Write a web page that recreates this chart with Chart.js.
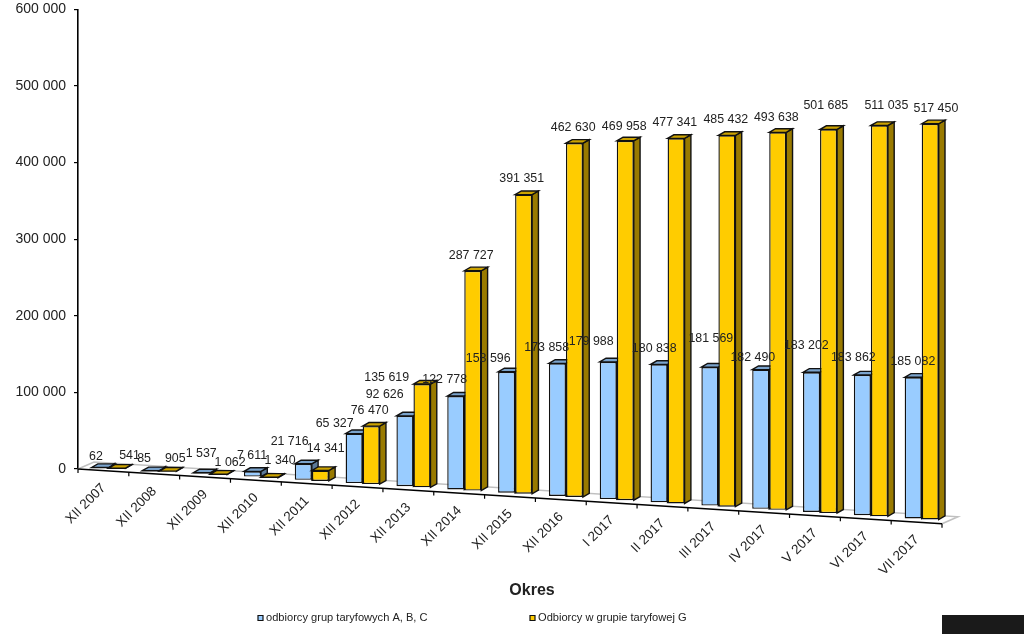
<!DOCTYPE html>
<html><head><meta charset="utf-8">
<style>html,body{margin:0;padding:0;background:#fff}#w{width:1024px;height:634px;position:relative}</style>
<script src="https://cdn.jsdelivr.net/npm/chart.js@4"></script></head>
<body><div id="w"><canvas id="c" width="1024" height="634"></canvas></div>
<script>
const categories=["XII 2007","XII 2008","XII 2009","XII 2010","XII 2011","XII 2012","XII 2013","XII 2014","XII 2015","XII 2016","I 2017","II 2017","III 2017","IV 2017","V 2017","VI 2017","VII 2017"];
const seriesABC=[62,85,1537,7611,21716,65327,92626,122778,158596,173858,179988,180838,181569,182490,183202,183862,185082];
const seriesG=[541,905,1062,1340,14341,76470,135619,287727,391351,462630,469958,477341,485432,493638,501685,511035,517450];
const yTicks=[0,100000,200000,300000,400000,500000,600000];
const nameABC="odbiorcy grup taryfowych A, B, C";
const nameG="Odbiorcy w grupie taryfowej G";
const axisTitle="Okres";
// hand placement of the value labels in the original, relative to each bar's top centre
const nudgeABC=[[-4,-10.6],[-6.8,-11.75],[-.4,-18.85],[-.4,-15.7],[-13.7,-22.1],[-19.5,-9.6],[-20.3,-20.9],[-11.1,-16],[-18.4,-12.8],[-10.7,-15.3],[-17,-20.2],[-4.8,-15.5],[.9,-28],[-7.9,-11.9],[-5.2,-26.6],[-9,-17.3],[-.3,-15.2]];
const nudgeG=[[12.5,-12.25],[7.4,-12.2],[11.4,-11.6],[10.6,-16.3],[5.3,-21.5],[-1.5,-15.1],[-35.3,-6.1],[-1.6,-15.1],[-1.9,-15.6],[-1.2,-15.2],[-1,-13.8],[-1.3,-15.4],[-1.1,-15.4],[-1.4,-14.4],[-2.7,-23.7],[7,-19.7],[5.7,-14.7]];

const FONT='"Liberation Sans", Arial, sans-serif', INK='#222';
const SKEW=.0633, LIFT=-2.3, DX=6.3, DY=-3.6;
const fmt=v=>String(v).replace(/\B(?=(\d{3})+(?!\d))/g,' ');
const styles=[{front:'#99CCFF',top:'#7AA3CC',side:'#5C7A99'},{front:'#FFCC00',top:'#CCA300',side:'#997A00'}];

function poly(ctx,pts,fill,stroke,lw){ctx.beginPath();pts.forEach((p,i)=>i?ctx.lineTo(p[0],p[1]):ctx.moveTo(p[0],p[1]));ctx.closePath();
  if(fill){ctx.fillStyle=fill;ctx.fill();} if(stroke){ctx.strokeStyle=stroke;ctx.lineWidth=lw;ctx.stroke();}}

const bars3d={id:'bars3d',
  afterDatasetsUpdate(chart){
    const sx=chart.scales.x;
    chart.data.datasets.forEach((ds,di)=>{
      chart.getDatasetMeta(di).data.forEach((el,i)=>{
        const w=el.width, cx=sx.getPixelForValue(i)+5.1+(di===0?-w/2:w/2);
        const drop=SKEW*(cx-w/2-sx.left)+LIFT;
        el.x=cx; el.y+=drop; el.base+=drop;
      });
    });
  },
  beforeDraw(chart){
    const sx=chart.scales.x, items=sx.getLabelItems();
    if(!items._moved){items._moved=true;
      items.forEach(it=>{const t=it.options.translation; t[1]+=SKEW*(t[0]-sx.left)-2; t[0]+=.3;});}
  },
  beforeDatasetsDraw(chart){
    const {ctx}=chart, sx=chart.scales.x, L=sx.left, R=sx.right, B=sx.top;
    const d=(R-L)*SKEW;
    poly(ctx,[[L,B],[L+16,B-7],[R+16,B+d-7],[R,B+d]],'#fff',null);
    ctx.strokeStyle='#c0c0c0';ctx.lineWidth=1.5;ctx.beginPath();
    ctx.moveTo(L,B);ctx.lineTo(L+16,B-7);ctx.lineTo(R+16,B+d-7);ctx.lineTo(R,B+d);ctx.stroke();
    ctx.strokeStyle='#000';ctx.lineWidth=1.6;ctx.beginPath();ctx.moveTo(L,B);ctx.lineTo(R,B+d);ctx.stroke();
    ctx.lineWidth=1.2;ctx.beginPath();
    for(let i=0;i<=categories.length;i++){const x=L+(R-L)*i/categories.length,y=B+(x-L)*SKEW;ctx.moveTo(x,y);ctx.lineTo(x,y+4);}
    ctx.stroke();
  },
  beforeDatasetDraw(chart,args){
    const {ctx}=chart, st=styles[args.index];
    chart.getDatasetMeta(args.index).data.forEach(el=>{
      const l=el.x-el.width/2,r=el.x+el.width/2,t=el.y,b=el.base;
      poly(ctx,[[r,t],[r+DX,t+DY],[r+DX,b+DY],[r,b]],st.side,'#111',1.4);
      poly(ctx,[[l,t],[l+DX,t+DY],[r+DX,t+DY],[r,t]],st.top,'#111',1.4);
    });
  },
  afterDatasetsDraw(chart){
    const {ctx}=chart;
    ctx.save();ctx.font='12.4px '+FONT;ctx.fillStyle=INK;ctx.textAlign='center';ctx.textBaseline='middle';
    [[seriesABC,nudgeABC],[seriesG,nudgeG]].forEach((pair,di)=>{
      chart.getDatasetMeta(di).data.forEach((el,i)=>{
        ctx.fillText(fmt(pair[0][i]),el.x+pair[1][i][0],el.y+pair[1][i][1]);
      });
    });
    ctx.font='bold 16px '+FONT;ctx.fillText(axisTitle,532,591);
    ctx.font='11.1px '+FONT;ctx.textAlign='left';
    [[260.5,nameABC,0],[532.5,nameG,1]].forEach(e=>{
      poly(ctx,[[e[0]-2.5,615.5],[e[0]+2.5,615.5],[e[0]+2.5,620.5],[e[0]-2.5,620.5]],styles[e[2]].front,'#111',1.2);
      ctx.fillStyle=INK;ctx.fillText(e[1],e[0]+5.5,618);
    });
    ctx.fillStyle='#1a1a1a';ctx.fillRect(942,615,82,19);
    ctx.restore();
  }};

new Chart(document.getElementById('c'),{
  type:'bar',
  data:{labels:categories,datasets:[
    {label:nameABC,data:seriesABC,order:2,clip:false,backgroundColor:styles[0].front,borderColor:'#111',borderWidth:1.4,borderSkipped:false},
    {label:nameG,data:seriesG,order:1,clip:false,backgroundColor:styles[1].front,borderColor:'#111',borderWidth:1.4,borderSkipped:false}]},
  options:{responsive:false,animation:false,
    layout:{padding:{left:0,right:82,top:9.4,bottom:0}},
    datasets:{bar:{barPercentage:1,categoryPercentage:.67}},
    plugins:{legend:{display:false},tooltip:{enabled:false}},
    scales:{
      x:{afterFit(s){s.height=165;s.paddingLeft=0;s.paddingRight=0;},grid:{display:false},border:{display:false},
        ticks:{autoSkip:false,minRotation:45,maxRotation:45,padding:4,color:INK,font:{family:FONT,size:13.5}}},
      y:{min:0,max:600000,afterFit(s){s.width=78;s.paddingTop=0;s.paddingBottom=0;},
        afterBuildTicks(s){s.ticks=yTicks.map(v=>({value:v}));},
        grid:{drawOnChartArea:false,drawTicks:true,tickLength:4,color:'#000',lineWidth:1.2},
        border:{display:true,color:'#000',width:1.6},
        ticks:{padding:8,color:INK,font:{family:FONT,size:14},callback:v=>fmt(v)}}
    }},
  plugins:[bars3d]});
</script></body></html>
